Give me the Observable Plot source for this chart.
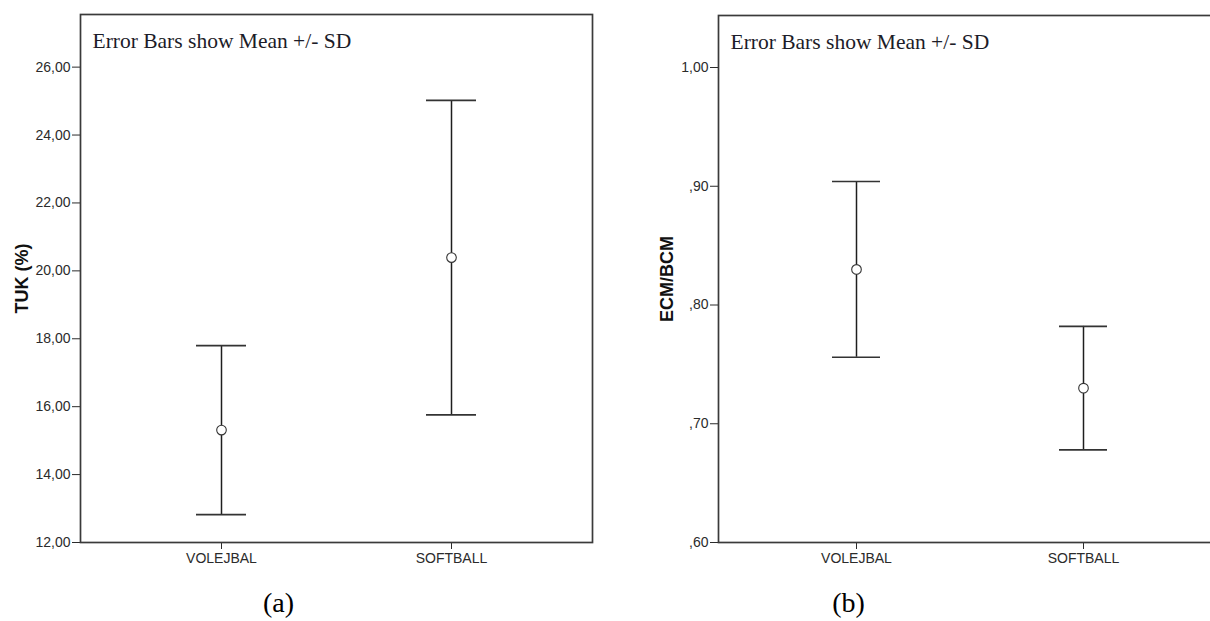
<!DOCTYPE html>
<html>
<head>
<meta charset="utf-8">
<script src="https://cdn.jsdelivr.net/npm/d3@7"></script>
<script src="https://cdn.jsdelivr.net/npm/@observablehq/plot@0.6"></script>
<style>
  html, body { margin: 0; background: #fff; }
  body { width: 1210px; height: 621px; overflow: hidden; position: relative; }
  .panel { position: absolute; top: 0; }
  .panel svg { max-width: none !important; }
</style>
</head>
<body>
<div id="panelA" class="panel" style="left:0px;width:600px"></div>
<div id="panelB" class="panel" style="left:640px;width:590px"></div>
<script>
// Groups compared in both panels
const groups = ["VOLEJBAL", "SOFTBALL"];

// Panel (a): TUK (%) — mean and standard deviation per group
const tukMean = [15.31, 20.39];
const tukSD = [2.49, 4.63];
const tukTicks = [12, 14, 16, 18, 20, 22, 24, 26];
const tukTickLabels = ["12,00", "14,00", "16,00", "18,00", "20,00", "22,00", "24,00", "26,00"];

// Panel (b): ECM/BCM — mean and standard deviation per group
const ecmMean = [0.830, 0.730];
const ecmSD = [0.074, 0.052];
const ecmTicks = [0.6, 0.7, 0.8, 0.9, 1.0];
const ecmTickLabels = [",60", ",70", ",80", ",90", "1,00"];

const note = "Error Bars show Mean +/- SD";

function rows(means, sds) {
  return groups.map((g, i) => ({group: g, mean: means[i], lo: means[i] - sds[i], hi: means[i] + sds[i]}));
}

function panel({data, yDomain, ticks, tickLabels, yLabel, labelDx, caption, captionDx,
                width, marginLeft, marginRight, marginTop, paddingInner, paddingOuter}) {
  const ink = "#2b2b2b";
  return Plot.plot({
    width,
    height: 621,
    marginLeft,
    marginRight,
    marginTop,
    marginBottom: 79,
    style: {fontFamily: "'Liberation Sans', Arial, sans-serif", background: "transparent", color: ink, maxWidth: "none"},
    x: {type: "band", domain: groups, paddingInner, paddingOuter},
    y: {domain: yDomain},
    marks: [
      Plot.axisY({ticks, tickFormat: (d, i) => tickLabels[i], tickSize: 8, tickPadding: 2,
                  fontSize: 14, label: null, stroke: ink}),
      Plot.axisX({tickSize: 7, tickPadding: 4, fontSize: 14, label: null, stroke: ink}),
      Plot.frame({stroke: "#3a3a3a", strokeWidth: 1.7}),
      // vertical error bar (mean ± SD)
      Plot.ruleX(data, {x: "group", y1: "lo", y2: "hi", stroke: "#1e1e1e", strokeWidth: 1.5}),
      // caps
      Plot.tickY(data, {x: "group", y: "lo", stroke: "#333", strokeWidth: 1.7}),
      Plot.tickY(data, {x: "group", y: "hi", stroke: "#333", strokeWidth: 1.7}),
      // mean marker
      Plot.dot(data, {x: "group", y: "mean", r: 4.8, stroke: "#333", strokeWidth: 1.1, fill: "white"}),
      // y-axis title
      Plot.text([yLabel], {frameAnchor: "left", rotate: -90, dx: labelDx, textAnchor: "middle",
                           lineAnchor: "middle", fontSize: 18, fontWeight: "bold", fill: "#111"}),
      // legend note inside the frame
      Plot.text([note], {frameAnchor: "top-left", dx: 12, dy: 27, textAnchor: "start", lineAnchor: "middle",
                         fontSize: 21.5, fill: "#1c1c28",
                         fontFamily: "'Liberation Serif', 'Times New Roman', serif"}),
      // panel caption below the chart
      Plot.text([caption], {frameAnchor: "bottom-left", dx: captionDx, dy: 61, textAnchor: "middle",
                            lineAnchor: "middle", fontSize: 28, fill: "#000",
                            fontFamily: "'Liberation Serif', 'Times New Roman', serif"})
    ]
  });
}

document.getElementById("panelA").append(panel({
  data: rows(tukMean, tukSD),
  yDomain: [12, 27.55],
  ticks: tukTicks,
  tickLabels: tukTickLabels,
  yLabel: "TUK (%)",
  labelDx: -58,
  caption: "(a)",
  captionDx: 198,
  width: 600,
  marginLeft: 80,
  marginRight: 8,
  marginTop: 14,
  paddingInner: 0.7826,
  paddingOuter: 0.504
}));

document.getElementById("panelB").append(panel({
  data: rows(ecmMean, ecmSD),
  yDomain: [0.6, 1.0438],
  ticks: ecmTicks,
  tickLabels: ecmTickLabels,
  yLabel: "ECM/BCM",
  labelDx: -51,
  caption: "(b)",
  captionDx: 130,
  width: 590,
  marginLeft: 78,
  marginRight: 9,
  marginTop: 15,
  paddingInner: 0.7885,
  paddingOuter: 0.502
}));
</script>
</body>
</html>
